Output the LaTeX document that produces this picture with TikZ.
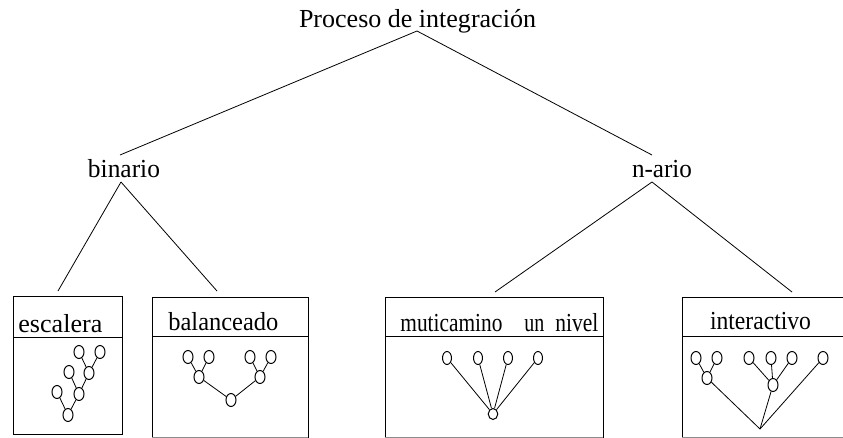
\documentclass[tikz,border=0pt]{standalone}
\usepackage{fontspec}
\usepackage{graphicx}
\setmainfont{Liberation Serif}
\usetikzlibrary{shapes.geometric}
\newcommand\fitw[2]{\resizebox{#1}{\height}{#2}}
\begin{document}
\begin{tikzpicture}[x=1pt,y=-1pt,line width=0.8pt,
  lbl/.style={inner sep=0pt,font=\fontsize{26}{30}\selectfont},
  tnode/.style={draw,ellipse,minimum width=10pt,minimum height=13pt,inner sep=0pt,line width=1pt},
  rnode/.style={draw,ellipse,minimum width=9.5pt,minimum height=11pt,inner sep=0pt,line width=1pt},
  conn/.style={line width=0.8pt},
  boxline/.style={line width=0.9pt},
  faint/.style={line width=0.9pt,black!45}]
\useasboundingbox (0,0) rectangle (843,438);

% labels
\node[lbl,anchor=base] (top) at (417.5,28) {\fitw{237pt}{Proceso de integración}};
\node[lbl,anchor=base] (bin) at (124,178) {\fitw{72pt}{binario}};
\node[lbl,anchor=base] (nar) at (662,178) {\fitw{60pt}{n-ario}};

% connector end points
\coordinate (topA) at (417,31);
\coordinate (binT) at (120,155);
\coordinate (narT) at (652,155);
\coordinate (binB) at (121,182);
\coordinate (narB) at (652,182);
\coordinate (escT) at (58,291);
\coordinate (balT) at (217,291);
\coordinate (mutT) at (495,292);
\coordinate (intT) at (792,292);

\draw[conn] (topA) -- (binT);
\draw[conn] (topA) -- (narT);
\draw[conn] (binB) -- (escT);
\draw[conn] (binB) -- (balT);
\draw[conn] (narB) -- (mutT);
\draw[conn] (narB) -- (intT);

% boxes
\draw[boxline] (13,296) rectangle (122,434);
\draw[boxline] (13,337) -- (122,337);
\node[lbl,anchor=base west] (esc) at (18,332) {\fitw{84pt}{escalera}};

\draw[boxline] (152,438) -- (152,297) -- (308,297) -- (308,438);
\draw[faint] (152,437.6) -- (308,437.6);
\draw[boxline] (152,336) -- (308,336);
\node[lbl,anchor=base west] (bal) at (168,330) {\fitw{110pt}{balanceado}};

\draw[boxline] (385,438) -- (385,297) -- (603,297) -- (603,438);
\draw[faint] (385,437.6) -- (603,437.6);
\draw[boxline] (385,336) -- (603,336);
\node[lbl,anchor=base west] (mutA) at (400,331) {\fitw{102pt}{muticamino}};
\node[lbl,anchor=base west] (mutB) at (524,331) {\fitw{20pt}{un}};
\node[lbl,anchor=base west] (mutC) at (555,331) {\fitw{43pt}{nivel}};

\draw[boxline] (682,438) -- (682,297) -- (843,297);
\draw[faint] (682,437.6) -- (843,437.6);
\draw[boxline] (682,336) -- (843,336);
\node[lbl,anchor=base] (int) at (760.5,329) {\fitw{101pt}{interactivo}};

% escalera tree
\node[tnode] (e1) at (79,352) {};
\node[tnode] (e2) at (100,352) {};
\node[tnode] (e3) at (69,372) {};
\node[tnode] (eA) at (89,373) {};
\node[tnode] (e4) at (57,392) {};
\node[tnode] (eB) at (79,394) {};
\node[tnode] (eR) at (68,415) {};
\draw[conn] (e1) -- (eA);
\draw[conn] (e2) -- (eA);
\draw[conn] (e3) -- (eB);
\draw[conn] (eA) -- (eB);
\draw[conn] (e4) -- (eR);
\draw[conn] (eB) -- (eR);

% balanceado tree
\node[tnode] (b1) at (188,357) {};
\node[tnode] (b2) at (209,357) {};
\node[tnode] (b3) at (250,357) {};
\node[tnode] (b4) at (271,357) {};
\node[tnode] (bM1) at (199,377) {};
\node[tnode] (bM2) at (260,377) {};
\node[tnode] (bR) at (231,400) {};
\draw[conn] (b1) -- (bM1);
\draw[conn] (b2) -- (bM1);
\draw[conn] (b3) -- (bM2);
\draw[conn] (b4) -- (bM2);
\draw[conn] (bM1) -- (bR);
\draw[conn] (bM2) -- (bR);

% muticamino tree
\node[tnode,minimum width=9pt] (m1) at (447,358) {};
\node[tnode,minimum width=9pt] (m2) at (478,358) {};
\node[tnode,minimum width=9pt] (m3) at (508,358) {};
\node[tnode,minimum width=9pt] (m4) at (538,358) {};
\node[rnode] (mR) at (493,414) {};
\draw[conn] (m1) -- (mR);
\draw[conn] (m2) -- (mR);
\draw[conn] (m3) -- (mR);
\draw[conn] (m4) -- (mR);

% interactivo tree
\node[tnode] (i1) at (696,358) {};
\node[tnode] (i2) at (717,358) {};
\node[tnode] (iM1) at (707,378) {};
\node[tnode] (i3) at (749,358) {};
\node[tnode] (i4) at (771,358) {};
\node[tnode] (i5) at (792,358) {};
\node[tnode] (iM2) at (773,385) {};
\node[tnode] (i6) at (823,358) {};
\coordinate (iR) at (760,429);
\draw[conn] (i1) -- (iM1);
\draw[conn] (i2) -- (iM1);
\draw[conn] (i3) -- (iM2);
\draw[conn] (i4) -- (iM2);
\draw[conn] (i5) -- (iM2);
\draw[conn] (iM1) -- (iR);
\draw[conn] (iM2) -- (iR);
\draw[conn] (i6) -- (iR);
\end{tikzpicture}
\end{document}
